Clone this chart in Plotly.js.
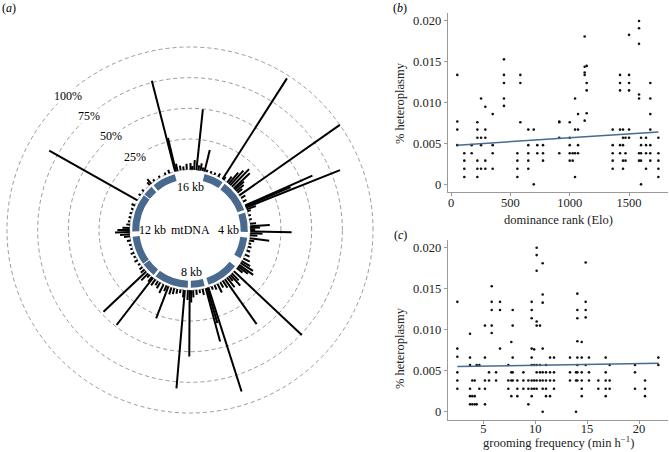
<!DOCTYPE html>
<html>
<head>
<meta charset="utf-8">
<script src="https://cdn.plot.ly/plotly-3.0.1.min.js"></script>
<style>html,body{margin:0;padding:0;background:#fff;}#chart{width:669px;height:452px;}</style>
</head>
<body>
<div id="chart"></div>
<script>
// ---------- Panel (a): mtDNA heteroplasmy sites ----------
const genomeLenKb = 16.57;
const geneStartKb = [0.648, 1.671, 3.307, 4.470, 5.904, 7.586, 8.366, 10.059, 10.760, 12.337, 14.149, 14.747];
const geneEndKb   = [1.601, 3.229, 4.262, 5.511, 7.445, 8.269, 9.990, 10.766, 12.137, 14.148, 14.673, 15.887];

const sitePosKb = [
  15.91, 15.95, 16.02, 16.16, 16.29, 16.43, 0.02, 0.09, 0.18, 0.28, 0.37, 0.46, 0.55, 0.64, 0.74,
  0.92, 1.10, 1.29, 1.50, 1.56, 1.75, 1.84, 1.93, 2.03, 2.14, 2.21, 2.30, 2.39, 2.53, 2.67, 2.85, 3.04, 3.08, 3.14, 3.22, 3.31, 3.50,
  3.68, 3.87, 3.98, 4.05, 4.14, 4.20, 4.28, 4.37, 4.50, 4.60, 4.74, 4.88,
  5.06, 5.25, 5.43, 5.57, 5.66, 5.77, 5.85, 5.94, 6.13, 6.26, 6.35, 6.44, 6.54, 6.66, 6.77, 6.90, 7.04, 7.18, 7.32, 7.47, 7.53, 7.59, 7.73, 7.87, 8.01,
  8.15, 8.24, 8.30, 8.38, 8.51, 8.56, 8.70, 8.84, 8.98, 9.11, 9.25, 9.34, 9.48, 9.65, 9.76, 9.90,
  10.02, 10.08, 10.22, 10.31, 10.43, 10.54, 10.68, 10.86, 11.05, 11.23, 11.41, 11.60, 11.78, 11.97,
  12.15, 12.24, 12.34, 12.43, 12.52, 12.66, 12.80, 12.98, 13.16, 13.35, 13.53, 13.78,
  14.04, 14.27, 14.64, 14.73, 14.91, 15.19, 15.47, 15.65
];
const siteHetPct = [
  76.5, 28, 6, 4, 3, 5, 5.5, 3, 8, 49.8, 4, 6, 3, 18, 2,
  2, 2, 3, 97.5, 3, 6, 12, 16, 20, 18, 10, 8, 5, 100, 4, 3, 60, 40, 82.5, 8, 3, 2,
  2, 5, 16, 8, 4, 33.7, 10, 6, 16, 4, 2, 3,
  3, 4, 6, 8, 12, 14, 10, 6, 75.8, 8, 12, 5, 10, 44.8, 7, 5, 8, 4, 3, 89, 30, 45, 5, 3, 4,
  6, 10, 54, 8, 80.4, 6, 3, 4, 5, 6, 28, 5, 8, 5.6, 4, 6,
  48.7, 5, 3, 8, 47.9, 4, 3, 2, 3, 2, 3, 2, 2, 3,
  5, 8, 12, 10, 6, 3, 2, 2, 2, 2, 3, 82.5,
  2, 2, 3, 5, 2, 2, 2, 3
];
const ringPctLabels = ['25%', '50%', '75%', '100%'];
const kbLabels = ['16 kb', '4 kb', '8 kb', '12 kb'];

// ---------- Panel (b): dominance rank ----------
const rankElo = [
  53,53,53,53, 112,112,112,112, 174,174, 222,222,222,222,222,222, 253,253,253,253,
  289,289,289,289,289, 351,351,351,351, 446,446,446,446,446, 559,559,559,559, 584,584,584,
  651,651,651,651,651, 697,697, 727,727, 775,775,775, 912,912,912,912, 1000,1000,1000,1000,1000,
  1025,1025, 1045,1045,1045,1045, 1070,1070,1070,1070, 1126,1126,1126,1126,1126, 1143,1143,1143,1143,
  1362,1362,1362,1362,1362, 1424,1424,1424,1424,1424,1424, 1449,1449,1449,1449,1449, 1470,1470,1470,
  1500,1500,1500,1500,1500,1500, 1584,1584,1584,1584,1584,1584,1584, 1601,1601,1601,1601,1601,
  1643,1643,1643,1643, 1679,1679,1679,1679,1679,1679,1679, 1747,1747,1747,1747,1747
];
const rankHet = [
  0.0134,0.0077,0.0067,0.0048, 0.0038,0.0029,0.0019,0.0009, 0.0048,0.0038, 0.0076,0.0067,0.0057,0.0029,0.0019,0.0009, 0.0105,0.0057,0.0048,0.0019,
  0.0095,0.0067,0.0057,0.0029,0.0019, 0.0086,0.0048,0.0038,0.0019, 0.0153,0.0134,0.0124,0.0105,0.0096, 0.0038,0.0029,0.0019,0.0009, 0.0134,0.0124,0.0076,
  0.0067,0.0048,0.0038,0.0029,0.0019, 0.0067,0, 0.0048,0.0038, 0.0048,0.0038,0.0029, 0.0077,0.0076,0.0057,0.0038, 0.0076,0.0057,0.0048,0.0038,0.0029,
  0.0038,0.0029, 0.0105,0.0067,0.0038,0.0009, 0.0086,0.0067,0.0048,0.0038, 0.0181,0.0144,0.0137,0.0134,0.0078, 0.0145,0.0124,0.0115,0.0087,
  0.0067,0.0048,0.0038,0.0029,0.0019, 0.0134,0.0124,0.0115,0.0067,0.0048,0.0038, 0.0067,0.0057,0.0048,0.0029,0.0019, 0.0057,0.0038,0.0029,
  0.0183,0.0134,0.0124,0.0115,0.0067,0.0057, 0.0200,0.0191,0.0172,0.0110,0.0105,0.0038,0.0029, 0.0057,0.0048,0.0038,0.0029,0,
  0.0057,0.0048,0.0038,0.0019, 0.0124,0.0105,0.0086,0.0067,0.0048,0.0038,0.0029, 0.0057,0.0038,0.0029,0.0019,0.0009
];
const rankFitX = [53, 1747];
const rankFitY = [0.0048, 0.0064];

// ---------- Panel (c): grooming frequency ----------
const groomFreq = [
  2.5,2.5,2.5,2.5,2.5,2.5, 3.72,3.72,3.72,3.72,3.72,3.72, 3.94,3.94,3.94, 4.17,4.17,4.17, 4.36,4.36, 4.62,4.62,
  5.16,5.16,5.16,5.16,5.16, 5.55,5.55, 5.81,5.81,5.81,5.81,5.81, 6.23,6.23, 6.61,6.61,6.61, 7.41,7.41,7.41,
  7.7,7.7,7.7,7.7, 7.83,7.83,7.83,7.83,7.83, 8.28,8.28,8.28, 8.86,8.86,8.86, 9.34,9.34,9.34,
  9.66,9.66,9.66,9.66,9.66,9.66,9.66,9.66,9.66, 9.9,9.9,9.9,9.9,
  10.14,10.14,10.14,10.14,10.14,10.14,10.14,10.14,10.14, 10.46,10.46,10.46,10.46,
  10.72,10.72,10.72,10.72,10.72,10.72,10.72,10.72, 11.04,11.04,11.04,11.04,11.04, 11.43,11.43,11.43,11.43, 11.81,11.81,11.81,11.81,
  13.35,13.35,13.35, 13.93,13.93,13.93, 14.06,14.06,14.06,14.06,14.06,14.06,14.06,14.06, 14.48,14.48,14.48,14.48,14.48,14.48,
  14.86,14.86,14.86,14.86,14.86, 15.18,15.18,15.18, 16.08,16.08, 16.79,16.79,16.79,16.79,16.79, 17.17,17.17,17.17,
  19.61,19.61,19.61, 20.58,20.58,20.58, 21.86,21.86
];
const groomHet = [
  0.0134,0.0077,0.0067,0.0048,0.0038,0.0028, 0.0095,0.0066,0.0057,0.0028,0.0019,0.0009, 0.0038,0.0019,0.0009, 0.0038,0.0019,0.0009, 0.0057,0.0009, 0.0057,0.0028,
  0.0105,0.0066,0.0038,0.0028,0.0009, 0.0048,0.0038, 0.0153,0.0134,0.0124,0.0105,0.0096, 0.0048,0.0038, 0.0134,0.0124,0.0077, 0.0057,0.0038,0.0028,
  0.0085,0.0048,0.0038,0.0019, 0.0124,0.0105,0.0066,0.0048,0.0038, 0.0038,0.0028,0.0019, 0.0048,0.0038,0.0028, 0.0038,0.0028,0.0009,
  0.0134,0.0124,0.0114,0.0077,0.0066,0.0057,0.0038,0.0028,0.0019, 0.0076,0.0057,0.0038,0.0028,
  0.0200,0.0191,0.0172,0.0110,0.0105,0.0057,0.0048,0.0038,0.0028, 0.0105,0.0057,0.0048,0.0038,
  0.0181,0.0143,0.0133,0.0077,0.0048,0.0038,0.0028,0, 0.0057,0.0048,0.0038,0.0028,0.0019, 0.0066,0.0048,0.0038,0.0019, 0.0066,0.0048,0.0038,0.0028,
  0.0066,0.0048,0.0038, 0.0048,0.0038,0, 0.0144,0.0124,0.0114,0.0086,0.0066,0.0057,0.0048,0.0038, 0.0085,0.0066,0.0048,0.0038,0.0028,0.0019,
  0.0182,0.0134,0.0124,0.0115,0.0057, 0.0066,0.0048,0.0038, 0.0038,0.0028, 0.0066,0.0048,0.0038,0.0028,0.0019, 0.0057,0.0038,0.0028,
  0.0057,0.0048,0.0028, 0.0038,0.0028,0.0019, 0.0066,0.0057
];
const groomFitX = [2.5, 21.9];
const groomFitY = [0.0055, 0.0059];

const yTickVals = [0, 0.005, 0.010, 0.015, 0.020];
const yTickText = ['0', '0.005', '0.010', '0.015', '0.020'];

// ---------- build traces ----------
const kbToDeg = kb => kb / genomeLenKb * 360;
const lineTheta = [], lineR = [];
sitePosKb.forEach((p, i) => {
  const t = kbToDeg(p);
  lineTheta.push(t, t, null);
  lineR.push(0, siteHetPct[i], null);
});
const ringTheta = geneStartKb.map((s, i) => kbToDeg((s + geneEndKb[i]) / 2));
const ringWidth = geneStartKb.map((s, i) => Math.max(kbToDeg(geneEndKb[i] - s) - 1.0, 1));

const serif = 'Liberation Serif, Times New Roman, serif';
const BLUE = '#49698f';
const AXC = '#9a9a9a';

const traces = [
  {type: 'barpolar', subplot: 'polar', theta: ringTheta, width: ringWidth,
   r: geneStartKb.map(() => 5.8), base: geneStartKb.map(() => -7.8),
   marker: {color: BLUE, line: {width: 0}}, hoverinfo: 'skip', showlegend: false},
  {type: 'scatterpolar', subplot: 'polar', mode: 'lines', theta: lineTheta, r: lineR,
   connectgaps: false, line: {color: '#000', width: 2}, hoverinfo: 'skip', showlegend: false},
  {type: 'scatter', mode: 'markers', x: rankElo, y: rankHet, xaxis: 'x', yaxis: 'y',
   marker: {color: '#111', size: 2.6}, showlegend: false},
  {type: 'scatter', mode: 'lines', x: rankFitX, y: rankFitY, xaxis: 'x', yaxis: 'y',
   line: {color: BLUE, width: 1.5}, showlegend: false},
  {type: 'scatter', mode: 'markers', x: groomFreq, y: groomHet, xaxis: 'x2', yaxis: 'y2',
   marker: {color: '#111', size: 2.6}, showlegend: false},
  {type: 'scatter', mode: 'lines', x: groomFitX, y: groomFitY, xaxis: 'x2', yaxis: 'y2',
   line: {color: BLUE, width: 1.5}, showlegend: false}
];

const W = 669, H = 452;
const px = x => x / W, py = y => 1 - y / H;
const tf = {family: serif, size: 12.5, color: '#222'};

function xAx(dom, anchor, range, tv, stand) {
  return {domain: dom, anchor: anchor, range: range, tickvals: tv, showline: true, linecolor: AXC, linewidth: 1,
    ticks: 'outside', ticklen: 3, tickcolor: AXC, showgrid: false, zeroline: false, tickfont: tf, automargin: false,
    ticklabelstandoff: stand};
}
function yAx(dom, anchor, range) {
  return {domain: dom, anchor: anchor, range: range, tickvals: yTickVals, ticktext: yTickText, showline: true,
    linecolor: AXC, linewidth: 1, ticks: 'outside', ticklen: 3, tickcolor: AXC, showgrid: false, zeroline: false,
    tickfont: tf, automargin: false};
}

const ann = [];
const txt = (text, x, y, extra) => Object.assign({text: text, x: px(x), y: py(y), xref: 'paper', yref: 'paper',
  showarrow: false, font: {family: serif, size: 12, color: '#000'}, xanchor: 'center', yanchor: 'middle'}, extra || {});
ann.push(txt('(<i>a</i>)', 9, 8));
ann.push(txt('(<i>b</i>)', 400, 8));
ann.push(txt('(<i>c</i>)', 400, 235));
ann.push(txt(kbLabels[0], 190, 187));
ann.push(txt(kbLabels[1], 228, 230));
ann.push(txt(kbLabels[2], 191.5, 272));
ann.push(txt(kbLabels[3], 152, 230));
ann.push(txt('mtDNA', 190, 230));
const pctPos = [[135, 157], [111, 136], [89, 116], [68, 96]];
ringPctLabels.forEach((l, i) => ann.push(txt(l, pctPos[i][0], pctPos[i][1], {bgcolor: '#fff', borderpad: 0})));
// axis titles
const af = {family: serif, size: 12.5, color: '#222'};
ann.push(txt('dominance rank (Elo)', 558, 220, {font: af}));
ann.push(txt('grooming frequency (min h<sup>−1</sup>)', 558, 451, {font: af, yanchor: 'bottom', borderpad: 0}));
ann.push(txt('% heteroplasmy', 400, 103, {font: af, textangle: -90}));
ann.push(txt('% heteroplasmy', 400, 348, {font: af, textangle: -90}));

const layout = {
  width: W, height: H, margin: {l: 0, r: 0, t: 0, b: 0}, paper_bgcolor: '#fff', plot_bgcolor: '#fff',
  font: {family: serif, color: '#222'}, showlegend: false,
  polar: {
    domain: {x: [0.00493, 0.5631], y: [0.0781, 0.9042]},
    hole: 0.2571, bgcolor: '#fff',
    radialaxis: {range: [-10, 103], tickvals: [0, 25, 50, 75, 100], showticklabels: false, ticks: '',
      showline: false, gridcolor: AXC, gridwidth: 1, griddash: '4px,3px'},
    angularaxis: {rotation: 90, direction: 'clockwise', showgrid: false, showticklabels: false, ticks: '',
      showline: false}
  },
  xaxis: xAx([0.6692, 0.9985], 'y', [-28, 1828], [0, 500, 1000, 1500], -4),
  yaxis: yAx([0.5759, 0.9706], 'x', [-0.0009, 0.02094]),
  xaxis2: xAx([0.6692, 0.9985], 'y2', [1.57, 22.79], [5, 10, 15, 20], -6),
  yaxis2: yAx([0.0708, 0.469], 'x2', [-0.00101, 0.02094]),
  annotations: ann
};

Plotly.newPlot('chart', traces, layout, {staticPlot: true, displayModeBar: false});
</script>
</body>
</html>
